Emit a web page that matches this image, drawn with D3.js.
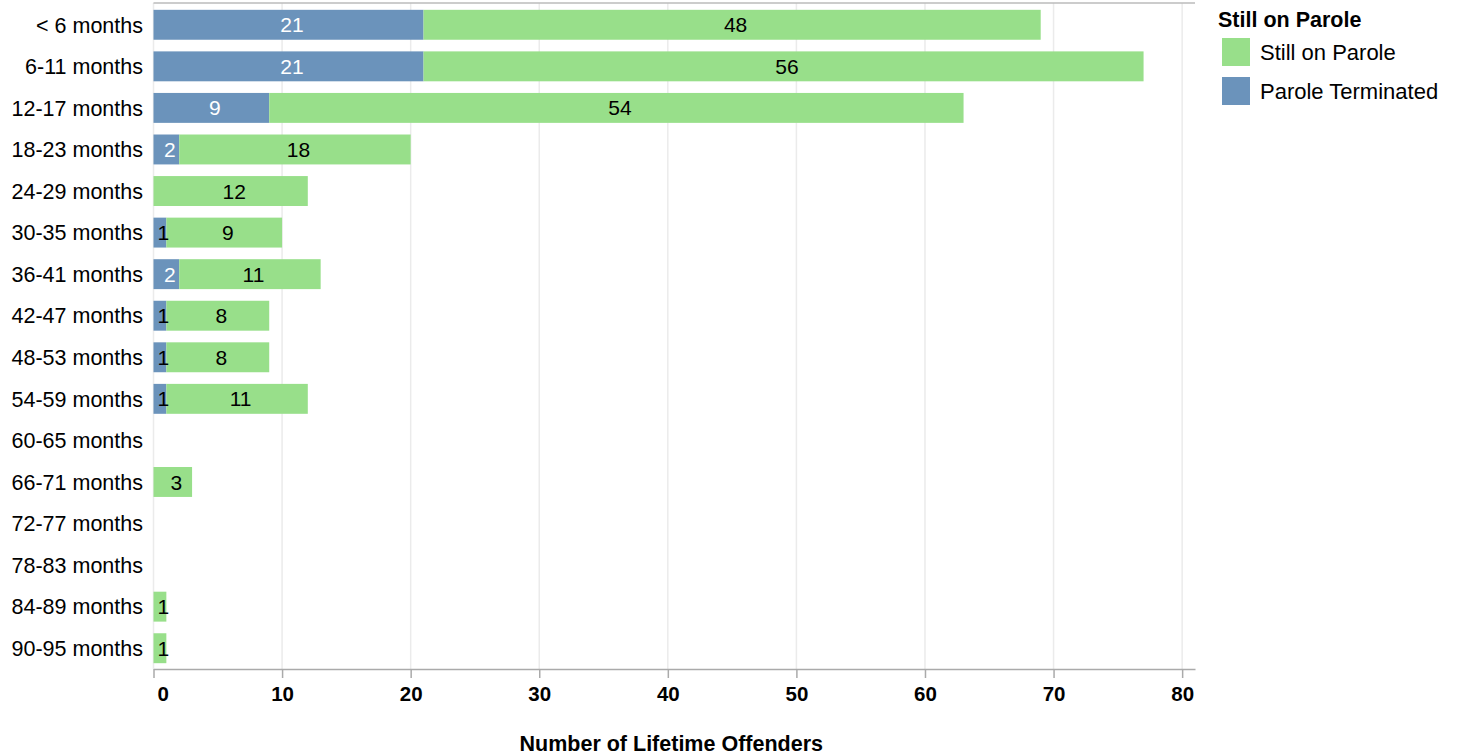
<!DOCTYPE html>
<html><head><meta charset="utf-8">
<script src="https://cdn.jsdelivr.net/npm/d3@7"></script>
<style>body{margin:0;background:#fff;} text{font-family:"Liberation Sans",Arial,sans-serif;}</style>
</head><body>
<svg id="c" width="1457" height="756"></svg>
<script>
const categories = ["< 6 months","6-11 months","12-17 months","18-23 months","24-29 months","30-35 months","36-41 months","42-47 months","48-53 months","54-59 months","60-65 months","66-71 months","72-77 months","78-83 months","84-89 months","90-95 months"];
const terminated = [21,21,9,2,0,1,2,1,1,1,0,0,0,0,0,0];
const still = [48,56,54,18,12,9,11,8,8,11,0,3,0,0,1,1];
const seriesNames = ["Parole Terminated","Still on Parole"];
const legendOrder = ["Still on Parole","Parole Terminated"];
const colors = {"Parole Terminated":"#6b93bb","Still on Parole":"#98df8a"};
const xTicks = [0,10,20,30,40,50,60,70,80];

const svg = d3.select("#c");
const L = 153.5, R = 1195, T = 4, B = 669;
const x = d3.scaleLinear().domain([0,81]).range([L,R]);
const y = d3.scaleBand().domain(categories).range([T,B]).paddingInner(0.28).paddingOuter(0.14);

// grid
svg.append("g").selectAll("line").data(xTicks).join("line")
  .attr("x1",d=>x(d)).attr("x2",d=>x(d)).attr("y1",T-1).attr("y2",B)
  .attr("stroke","#ebebeb").attr("stroke-width",1.5);
// top line
svg.append("line").attr("x1",L).attr("x2",R).attr("y1",3).attr("y2",3).attr("stroke","#bbb").attr("stroke-width",1.5);

const rows = categories.map((c,i)=>({c, segs:[
  {s:"Parole Terminated", x0:0, x1:terminated[i], v:terminated[i]},
  {s:"Still on Parole", x0:terminated[i], x1:terminated[i]+still[i], v:still[i]}
]}));
const segs = rows.flatMap(r=>r.segs.map(s=>({...s,c:r.c}))).filter(s=>s.v>0);

svg.append("g").selectAll("rect").data(segs).join("rect")
  .attr("x",d=>x(d.x0)).attr("width",d=>x(d.x1)-x(d.x0))
  .attr("y",d=>y(d.c)).attr("height",y.bandwidth())
  .attr("fill",d=>colors[d.s]);

svg.append("g").selectAll("text").data(segs).join("text")
  .attr("x",d=>(x(d.x0)+x(d.x1))/2).attr("y",d=>y(d.c)+y.bandwidth()/2)
  .attr("dx",3.5).attr("dy","0.36em").attr("text-anchor","middle").attr("font-size",21)
  .attr("fill",d=>(d.s==="Parole Terminated" && d.v>1)?"#fff":"#000")
  .text(d=>d.v);

// x axis
const xa = svg.append("g").attr("transform",`translate(0,${B})`)
  .call(d3.axisBottom(x).tickValues(xTicks).tickSize(9).tickPadding(8).tickSizeOuter(0));
xa.select(".domain").attr("stroke","#aaa").attr("stroke-width",1.5);
xa.selectAll(".tick line").attr("stroke","#aaa").attr("stroke-width",1.5);
xa.selectAll(".tick text").attr("font-size",20.5).attr("font-weight","bold").attr("fill","#000")
  .attr("font-family","Liberation Sans, Arial, sans-serif").attr("dy","0.75em");
xa.selectAll(".tick").filter(d=>d===0).select("text").attr("text-anchor","start").attr("dx",3.5);

// y labels
svg.append("g").selectAll("text").data(categories).join("text")
  .attr("x",143).attr("y",d=>y(d)+y.bandwidth()/2).attr("dy","0.36em")
  .attr("text-anchor","end").attr("font-size",21.5).attr("fill","#000").text(d=>d);

// x title
svg.append("text").attr("x",(L+R)/2-3).attr("y",751).attr("text-anchor","middle")
  .attr("font-size",21.5).attr("font-weight","bold").text("Number of Lifetime Offenders");

// legend
const lg = svg.append("g");
lg.append("text").attr("x",1218).attr("y",27).attr("font-size",21.5).attr("font-weight","bold").text("Still on Parole");
legendOrder.forEach((s,i)=>{
  lg.append("rect").attr("x",1222).attr("y",38+i*39).attr("width",28).attr("height",28).attr("fill",colors[s]);
  lg.append("text").attr("x",1260).attr("y",52+i*39).attr("dy","0.36em").attr("font-size",22).text(s);
});
</script>
</body></html>
